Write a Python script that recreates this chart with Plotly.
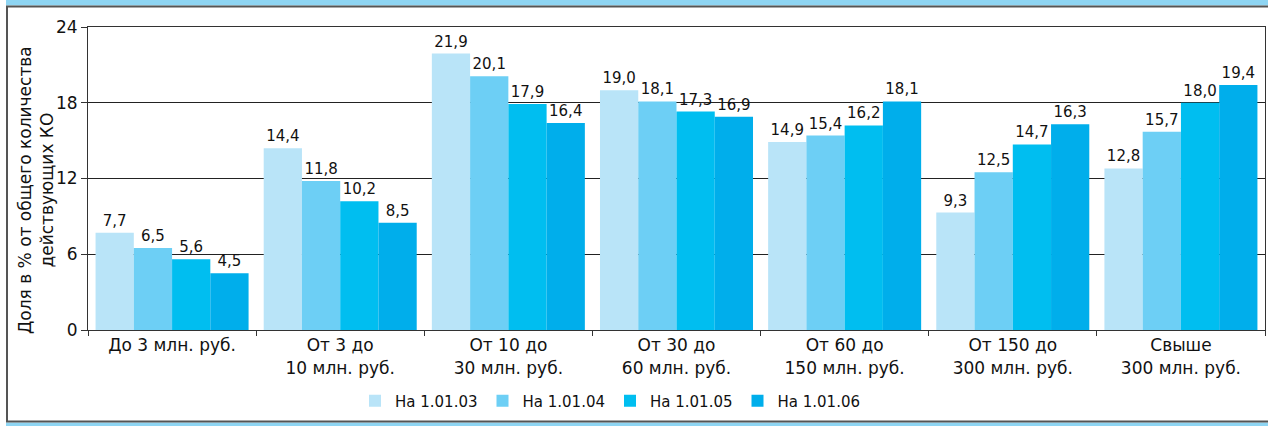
import plotly.graph_objects as go

categories = ["До 3 млн. руб.", "От 3 до<br>10 млн. руб.", "От 10 до<br>30 млн. руб.",
              "От 30 до<br>60 млн. руб.", "От 60 до<br>150 млн. руб.",
              "От 150 до<br>300 млн. руб.", "Свыше<br>300 млн. руб."]
series_names = ["На 1.01.03", "На 1.01.04", "На 1.01.05", "На 1.01.06"]
v_2003 = [7.7, 14.4, 21.9, 19.0, 14.9, 9.3, 12.8]
v_2004 = [6.5, 11.8, 20.1, 18.1, 15.4, 12.5, 15.7]
v_2005 = [5.6, 10.2, 17.9, 17.3, 16.2, 14.7, 18.0]
v_2006 = [4.5, 8.5, 16.4, 16.9, 18.1, 16.3, 19.4]
y_ticks = [0, 6, 12, 18, 24]
y_title = "Доля в % от общего количества<br>действующих КО"

colors = ["#b9e4f8", "#6dcff5", "#00bef0", "#00aeeb"]
FONT = "DejaVu Sans, sans-serif"

fig = go.Figure()
for name, vals, col in zip(series_names, [v_2003, v_2004, v_2005, v_2006], colors):
    fig.add_trace(go.Bar(
        x=categories, y=vals, name=name,
        marker=dict(color=col, line=dict(width=0)),
        text=[f"{v:.1f}".replace(".", ",") for v in vals],
        textposition="outside", cliponaxis=False,
        textfont=dict(family=FONT, size=15, color="#111"),
        hoverinfo="skip",
    ))

W, H = 1268, 426
L, R, T, B = 88, 3, 27, 96
pw, ph = W - L - R, H - T - B

def px(x):
    return (x - L) / pw

def py(y):
    return (H - B - y) / ph

shapes = [
    dict(type="rect", xref="paper", yref="paper", x0=px(6), x1=px(1280), y0=py(-2), y1=py(5.5),
         fillcolor="#8ed5f3", line=dict(width=0), layer="below"),
    dict(type="rect", xref="paper", yref="paper", x0=px(6), x1=px(1280), y0=py(422.5), y1=py(432),
         fillcolor="#8ed5f3", line=dict(width=0), layer="below"),
    dict(type="rect", xref="paper", yref="paper", x0=px(7), x1=px(1280), y0=py(421.5), y1=py(6.5),
         fillcolor="white", line=dict(color="#555", width=2), layer="below"),
]

fig.add_annotation(
    text=y_title, textangle=-90, xref="paper", yref="paper",
    x=px(36), y=py(190), xanchor="center", yanchor="middle", showarrow=False,
    font=dict(family=FONT, size=17, color="#111"), align="center",
)

fig.update_layout(
    width=W, height=H,
    margin=dict(l=L, r=R, t=T, b=B),
    paper_bgcolor="white", plot_bgcolor="white",
    barmode="group", bargap=0.09, bargroupgap=0,
    font=dict(family=FONT, color="#111"),
    shapes=shapes,
    hovermode=False,
    showlegend=True,
    legend=dict(orientation="h", x=px(610), xanchor="center", y=py(401), yanchor="middle",
                font=dict(family=FONT, size=15, color="#111"),
                itemwidth=30, traceorder="normal", bgcolor="rgba(0,0,0,0)"),
    xaxis=dict(
        tickson="boundaries", ticks="outside", ticklen=5, tickcolor="#333",
        showline=True, linecolor="#333", linewidth=1, mirror=True,
        tickfont=dict(family=FONT, size=17, color="#111"),
        showgrid=False, fixedrange=True,
    ),
    yaxis=dict(
        range=[0, 24], tickvals=y_ticks, ticks="outside", ticklen=6, tickcolor="#333",
        showline=True, linecolor="#333", linewidth=1, mirror=True,
        showgrid=True, gridcolor="#222", gridwidth=1,
        tickfont=dict(family=FONT, size=17, color="#111"),
        zeroline=False, fixedrange=True,
    ),
)

fig.write_html("out.html", config={"displayModeBar": False},
               post_script="document.body.style.margin='0';document.body.style.overflow='hidden';")
